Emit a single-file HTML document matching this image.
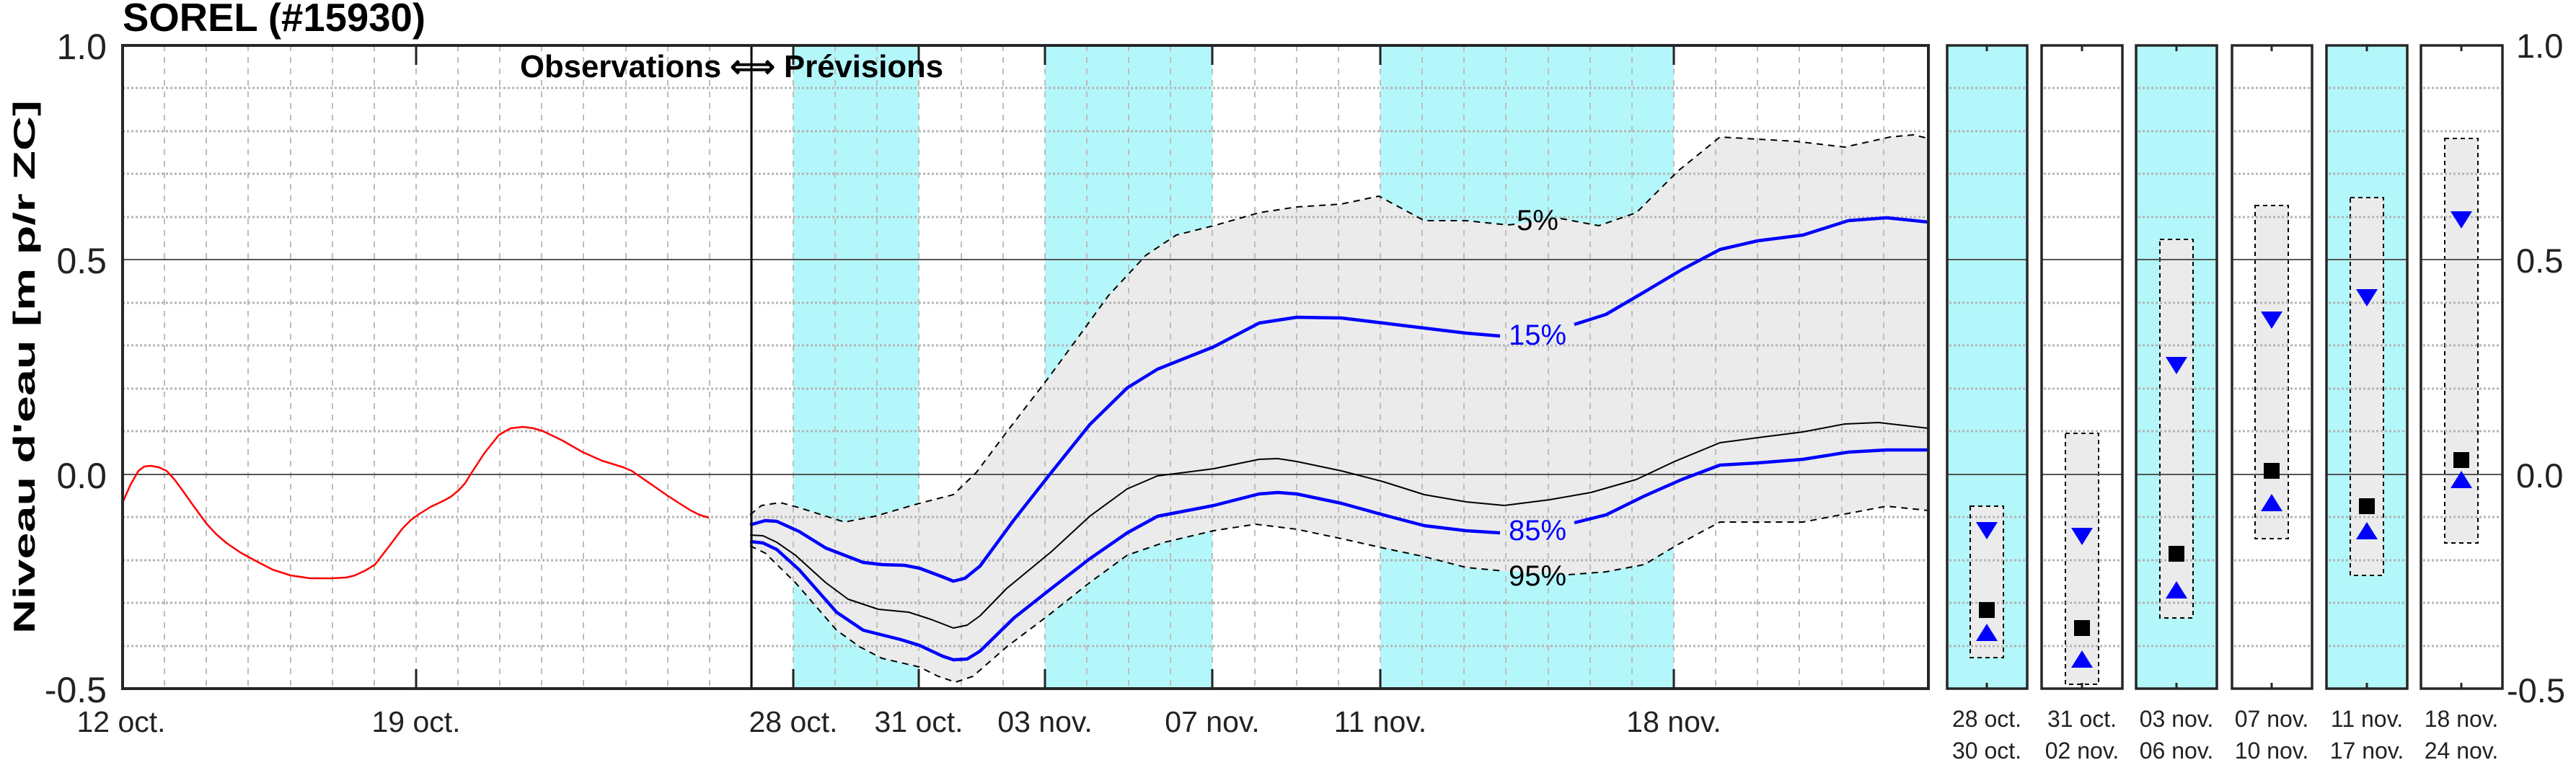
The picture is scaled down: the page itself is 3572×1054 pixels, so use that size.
<!DOCTYPE html>
<html><head><meta charset="utf-8"><style>html,body{margin:0;padding:0;background:#fff}svg{display:block}</style></head>
<body>
<svg width="3572" height="1054" viewBox="0 0 3572 1054" xmlns="http://www.w3.org/2000/svg" font-family="Liberation Sans, sans-serif">
<!-- cyan bands main -->
<rect x="1100" y="63" width="174" height="892" fill="#b3f7fa"/>
<rect x="1449" y="63" width="232" height="892" fill="#b3f7fa"/>
<rect x="1914" y="63" width="407" height="892" fill="#b3f7fa"/>
<!-- grey envelope -->
<polygon fill="#ebebeb" points="1040,714 1056,701 1082,697 1108,704 1171,724 1213,716 1275,698 1322,686 1354,655 1396,599 1453,525 1500,461 1537,410 1589,354 1631,326 1683,313 1746,295 1798,287 1860,283 1912,272 1975,306 2033,306 2091,312 2164,303 2217,313 2269,295 2327,237 2385,190 2437,193 2490,196 2558,204 2621,190 2653,187 2674,192 2674,708 2616,702 2563,712 2500,724 2437,724 2385,724 2327,755 2280,783 2227,793 2175,797 2086,792 2033,787 1975,772 1918,760 1860,747 1798,734 1741,727 1683,736 1615,752 1563,770 1511,808 1453,854 1396,897 1349,938 1325,946 1301,938 1275,925 1223,913 1192,897 1160,874 1103,808 1061,767 1040,757"/>
<!-- vertical day grid -->
<g stroke="#bdbdbd" stroke-width="2" stroke-dasharray="8,8">
<line x1="228" y1="63" x2="228" y2="955"/><line x1="286" y1="63" x2="286" y2="955"/><line x1="344" y1="63" x2="344" y2="955"/><line x1="403" y1="63" x2="403" y2="955"/><line x1="461" y1="63" x2="461" y2="955"/><line x1="519" y1="63" x2="519" y2="955"/><line x1="577" y1="63" x2="577" y2="955"/><line x1="635" y1="63" x2="635" y2="955"/><line x1="693" y1="63" x2="693" y2="955"/><line x1="751" y1="63" x2="751" y2="955"/><line x1="809" y1="63" x2="809" y2="955"/><line x1="868" y1="63" x2="868" y2="955"/><line x1="926" y1="63" x2="926" y2="955"/><line x1="984" y1="63" x2="984" y2="955"/><line x1="1100" y1="63" x2="1100" y2="955"/><line x1="1158" y1="63" x2="1158" y2="955"/><line x1="1216" y1="63" x2="1216" y2="955"/><line x1="1274" y1="63" x2="1274" y2="955"/><line x1="1333" y1="63" x2="1333" y2="955"/><line x1="1391" y1="63" x2="1391" y2="955"/><line x1="1449" y1="63" x2="1449" y2="955"/><line x1="1507" y1="63" x2="1507" y2="955"/><line x1="1565" y1="63" x2="1565" y2="955"/><line x1="1623" y1="63" x2="1623" y2="955"/><line x1="1681" y1="63" x2="1681" y2="955"/><line x1="1740" y1="63" x2="1740" y2="955"/><line x1="1798" y1="63" x2="1798" y2="955"/><line x1="1856" y1="63" x2="1856" y2="955"/><line x1="1914" y1="63" x2="1914" y2="955"/><line x1="1972" y1="63" x2="1972" y2="955"/><line x1="2030" y1="63" x2="2030" y2="955"/><line x1="2088" y1="63" x2="2088" y2="955"/><line x1="2147" y1="63" x2="2147" y2="955"/><line x1="2205" y1="63" x2="2205" y2="955"/><line x1="2263" y1="63" x2="2263" y2="955"/><line x1="2321" y1="63" x2="2321" y2="955"/><line x1="2379" y1="63" x2="2379" y2="955"/><line x1="2437" y1="63" x2="2437" y2="955"/><line x1="2495" y1="63" x2="2495" y2="955"/><line x1="2554" y1="63" x2="2554" y2="955"/><line x1="2612" y1="63" x2="2612" y2="955"/>
</g>
<!-- horizontal dotted grid main -->
<g stroke="#b4b4b4" stroke-width="3" stroke-dasharray="3,3">
<line x1="170" y1="122" x2="2674" y2="122"/><line x1="170" y1="182" x2="2674" y2="182"/><line x1="170" y1="241" x2="2674" y2="241"/><line x1="170" y1="301" x2="2674" y2="301"/>
<line x1="170" y1="420" x2="2674" y2="420"/><line x1="170" y1="479" x2="2674" y2="479"/><line x1="170" y1="539" x2="2674" y2="539"/><line x1="170" y1="598" x2="2674" y2="598"/>
<line x1="170" y1="717" x2="2674" y2="717"/><line x1="170" y1="777" x2="2674" y2="777"/><line x1="170" y1="836" x2="2674" y2="836"/><line x1="170" y1="896" x2="2674" y2="896"/>
</g>
<g stroke="#555" stroke-width="2"><line x1="170" y1="360" x2="2674" y2="360"/><line x1="170" y1="658" x2="2674" y2="658"/></g>
<!-- obs red -->
<polyline fill="none" stroke="#f00" stroke-width="2.5" stroke-linejoin="round" points="170,697 181,672 192,653 200,647 209,646 220,648 231,653 242,665 253,680 270,704 287,727 300,741 314,753 333,766 353,777 378,790 403,798 430,802 459,802 480,801 492,798 507,791 520,783 540,757 558,733 570,721 581,713 597,703 614,695 625,689 636,680 645,670 653,657 672,628 692,603 708,594 725,592 740,594 753,598 780,611 808,627 835,639 864,648 876,653 886,660 905,673 925,687 942,698 958,708 970,714 983,718"/>
<!-- dashed 5% / 95% -->
<g fill="none" stroke="#000" stroke-width="2" stroke-dasharray="9,7">
<polyline points="1040,714 1056,701 1082,697 1108,704 1171,724 1213,716 1275,698 1322,686 1354,655 1396,599 1453,525 1500,461 1537,410 1589,354 1631,326 1683,313 1746,295 1798,287 1860,283 1912,272 1975,306 2033,306 2091,312 2100,311"/>
<polyline points="2164,303 2217,313 2269,295 2327,237 2385,190 2437,193 2490,196 2558,204 2621,190 2653,187 2674,192"/>
<polyline points="1040,757 1061,767 1103,808 1160,874 1192,897 1223,913 1275,925 1301,938 1325,946 1349,938 1396,897 1453,854 1511,808 1563,770 1615,752 1683,736 1741,727 1798,734 1860,747 1918,760 1975,772 2033,787 2086,792"/>
<polyline points="2175,797 2227,793 2280,783 2327,755 2385,724 2437,724 2500,724 2563,712 2616,702 2674,708"/>
</g>
<!-- median -->
<polyline fill="none" stroke="#000" stroke-width="2" stroke-linejoin="round" points="1040,742 1058,743 1077,752 1103,770 1145,808 1176,831 1218,845 1260,849 1291,859 1322,871 1341,867 1359,854 1396,816 1458,765 1511,716 1563,678 1605,660 1683,650 1746,637 1772,636 1798,640 1860,653 1918,668 1975,686 2033,696 2086,701 2149,693 2206,683 2269,665 2322,640 2385,614 2437,607 2500,599 2558,588 2605,586 2674,594"/>
<!-- blue -->
<g fill="none" stroke="#0000ff" stroke-width="4.5" stroke-linejoin="round">
<polyline points="1040,728 1061,722 1077,723 1108,737 1145,760 1197,780 1223,783 1254,784 1275,788 1307,800 1322,806 1338,802 1359,785 1406,721 1458,655 1511,589 1563,538 1605,512 1683,481 1746,448 1798,440 1860,441 1918,448 1975,455 2033,462 2080,466"/>
<polyline points="2183,450 2227,436 2280,405 2332,374 2385,346 2437,334 2500,326 2563,306 2616,302 2674,308"/>
<polyline points="1040,751 1058,753 1077,762 1108,790 1160,849 1197,874 1249,887 1275,895 1307,910 1322,915 1341,914 1359,903 1406,857 1458,816 1511,775 1563,739 1605,716 1683,701 1746,685 1772,683 1798,685 1860,698 1918,714 1975,729 2033,736 2080,739"/>
<polyline points="2183,725 2227,714 2280,688 2332,665 2385,645 2437,642 2500,637 2563,627 2616,624 2674,624"/>
</g>
<g font-size="40" text-anchor="middle">
<text x="2132" y="319">5%</text>
<text x="2132" y="478" fill="#0000ff">15%</text>
<text x="2132" y="749" fill="#0000ff">85%</text>
<text x="2132" y="812">95%</text>
</g>
<!-- obs/prev separator -->
<line x1="1042" y1="63" x2="1042" y2="955" stroke="#000" stroke-width="3"/>
<!-- major ticks -->
<g stroke="#222" stroke-width="3">
<line x1="577" y1="63" x2="577" y2="90"/><line x1="577" y1="955" x2="577" y2="928"/>
<line x1="1100" y1="63" x2="1100" y2="90"/><line x1="1100" y1="955" x2="1100" y2="928"/>
<line x1="1274" y1="63" x2="1274" y2="90"/><line x1="1274" y1="955" x2="1274" y2="928"/>
<line x1="1449" y1="63" x2="1449" y2="90"/><line x1="1449" y1="955" x2="1449" y2="928"/>
<line x1="1681" y1="63" x2="1681" y2="90"/><line x1="1681" y1="955" x2="1681" y2="928"/>
<line x1="1914" y1="63" x2="1914" y2="90"/><line x1="1914" y1="955" x2="1914" y2="928"/>
<line x1="2321" y1="63" x2="2321" y2="90"/><line x1="2321" y1="955" x2="2321" y2="928"/>
</g>
<rect x="170" y="63" width="2504" height="892" fill="none" stroke="#262626" stroke-width="4"/>
<!-- texts main -->
<text x="170" y="43" font-size="55" font-weight="bold" textLength="420" lengthAdjust="spacingAndGlyphs">SOREL (#15930)</text>
<text x="721" y="107" font-size="44" font-weight="bold" textLength="587" lengthAdjust="spacingAndGlyphs">Observations ⟺ Prévisions</text>
<text transform="translate(48,509) rotate(-90)" font-size="42" font-weight="bold" text-anchor="middle" textLength="740" lengthAdjust="spacingAndGlyphs">Niveau d'eau [m p/r ZC]</text>
<g font-size="50" text-anchor="end" fill="#222">
<text x="148" y="82">1.0</text>
<text x="148" y="379">0.5</text>
<text x="148" y="677">0.0</text>
<text x="148" y="974">-0.5</text>
</g>
<g font-size="41" text-anchor="middle" fill="#222">
<text x="168" y="1015">12 oct.</text>
<text x="577" y="1015">19 oct.</text>
<text x="1100" y="1015">28 oct.</text>
<text x="1274" y="1015">31 oct.</text>
<text x="1449" y="1015">03 nov.</text>
<text x="1681" y="1015">07 nov.</text>
<text x="1914" y="1015">11 nov.</text>
<text x="2321" y="1015">18 nov.</text>
</g>
<!-- right panels -->
<g>
<rect x="2700" y="63" width="111" height="892" fill="#b3f7fa"/>
<rect x="2962" y="63" width="112" height="892" fill="#b3f7fa"/>
<rect x="3226" y="63" width="112" height="892" fill="#b3f7fa"/>
</g>
<g fill="#ebebeb" stroke="#000" stroke-width="2" stroke-dasharray="6,5">
<rect x="2732" y="702" width="46" height="210"/>
<rect x="2864" y="601" width="46" height="348"/>
<rect x="2995" y="332" width="46" height="525"/>
<rect x="3127" y="285" width="46" height="462"/>
<rect x="3259" y="274" width="46" height="524"/>
<rect x="3390" y="192" width="46" height="561"/>
</g>
<g stroke="#b4b4b4" stroke-width="3" stroke-dasharray="3,3">
<path d="M2703 122H2808M2703 182H2808M2703 241H2808M2703 301H2808M2703 420H2808M2703 479H2808M2703 539H2808M2703 598H2808M2703 717H2808M2703 777H2808M2703 836H2808M2703 896H2808"/>
<path d="M2834 122H2940M2834 182H2940M2834 241H2940M2834 301H2940M2834 420H2940M2834 479H2940M2834 539H2940M2834 598H2940M2834 717H2940M2834 777H2940M2834 836H2940M2834 896H2940"/>
<path d="M2965 122H3071M2965 182H3071M2965 241H3071M2965 301H3071M2965 420H3071M2965 479H3071M2965 539H3071M2965 598H3071M2965 717H3071M2965 777H3071M2965 836H3071M2965 896H3071"/>
<path d="M3098 122H3203M3098 182H3203M3098 241H3203M3098 301H3203M3098 420H3203M3098 479H3203M3098 539H3203M3098 598H3203M3098 717H3203M3098 777H3203M3098 836H3203M3098 896H3203"/>
<path d="M3229 122H3335M3229 182H3335M3229 241H3335M3229 301H3335M3229 420H3335M3229 479H3335M3229 539H3335M3229 598H3335M3229 717H3335M3229 777H3335M3229 836H3335M3229 896H3335"/>
<path d="M3360 122H3467M3360 182H3467M3360 241H3467M3360 301H3467M3360 420H3467M3360 479H3467M3360 539H3467M3360 598H3467M3360 717H3467M3360 777H3467M3360 836H3467M3360 896H3467"/>
</g>
<g stroke="#555" stroke-width="2">
<path d="M2700 360H2811M2700 658H2811M2831 360H2943M2831 658H2943M2962 360H3074M2962 658H3074M3095 360H3206M3095 658H3206M3226 360H3338M3226 658H3338M3357 360H3470M3357 658H3470"/>
</g>
<!-- markers -->
<g fill="#0000ff">
<polygon points="2740,724 2770,724 2755,748"/><polygon points="2740,889 2770,889 2755,865"/>
<polygon points="2872,732 2902,732 2887,756"/><polygon points="2872,926 2902,926 2887,902"/>
<polygon points="3003,495 3033,495 3018,519"/><polygon points="3003,830 3033,830 3018,806"/>
<polygon points="3135,432 3165,432 3150,456"/><polygon points="3135,709 3165,709 3150,685"/>
<polygon points="3267,401 3297,401 3282,425"/><polygon points="3267,748 3297,748 3282,724"/>
<polygon points="3398,293 3428,293 3413,317"/><polygon points="3398,677 3428,677 3413,653"/>
</g>
<g fill="#000">
<rect x="2744" y="835" width="22" height="22"/>
<rect x="2876" y="860" width="22" height="22"/>
<rect x="3007" y="757" width="22" height="22"/>
<rect x="3139" y="642" width="22" height="22"/>
<rect x="3271" y="691" width="22" height="22"/>
<rect x="3402" y="627" width="22" height="22"/>
</g>
<g fill="none" stroke="#262626" stroke-width="3.5">
<rect x="2700" y="63" width="111" height="892"/>
<rect x="2831" y="63" width="112" height="892"/>
<rect x="2962" y="63" width="112" height="892"/>
<rect x="3095" y="63" width="111" height="892"/>
<rect x="3226" y="63" width="112" height="892"/>
<rect x="3357" y="63" width="113" height="892"/>
</g>
<g stroke="#262626" stroke-width="3">
<path d="M2755 63v8M2755 955v-8M2887 63v8M2887 955v-8M3018 63v8M3018 955v-8M3150 63v8M3150 955v-8M3282 63v8M3282 955v-8M3413 63v8M3413 955v-8"/>
</g>
<g font-size="47" fill="#222">
<text x="3489" y="80">1.0</text>
<text x="3489" y="378">0.5</text>
<text x="3489" y="676">0.0</text>
<text x="3476" y="974">-0.5</text>
</g>
<g font-size="32" text-anchor="middle" fill="#222">
<text x="2755" y="1008">28 oct.</text><text x="2755" y="1052">30 oct.</text>
<text x="2887" y="1008">31 oct.</text><text x="2887" y="1052">02 nov.</text>
<text x="3018" y="1008">03 nov.</text><text x="3018" y="1052">06 nov.</text>
<text x="3150" y="1008">07 nov.</text><text x="3150" y="1052">10 nov.</text>
<text x="3282" y="1008">11 nov.</text><text x="3282" y="1052">17 nov.</text>
<text x="3413" y="1008">18 nov.</text><text x="3413" y="1052">24 nov.</text>
</g>
</svg>
</body></html>
